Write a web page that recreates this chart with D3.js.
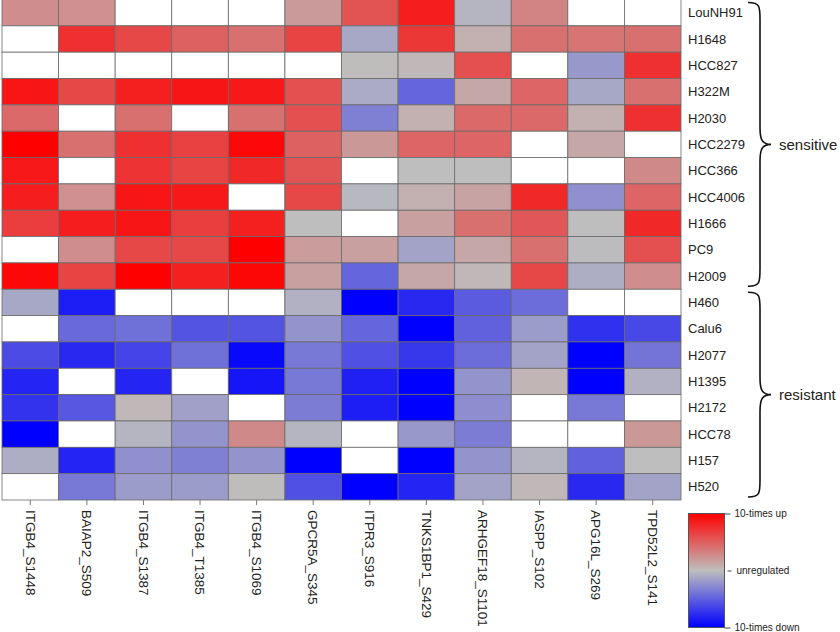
<!DOCTYPE html>
<html>
<head>
<meta charset="utf-8">
<script src="https://cdn.jsdelivr.net/npm/d3@7"></script>
<style>
  html, body { margin: 0; padding: 0; background: #ffffff; }
  svg { display: block; }
  text { font-family: "Liberation Sans", Arial, sans-serif; fill: #222; }
</style>
</head>
<body>
<svg id="chart" width="840" height="632"></svg>
<script>
// ---- data ----
const columns = ["ITGB4_S1448","BAIAP2_S509","ITGB4_S1387","ITGB4_T1385","ITGB4_S1069","GPCR5A_S345",
                 "ITPR3_S916","TNKS1BP1_S429","ARHGEF18_S1101","IASPP_S102","APG16L_S269","TPD52L2_S141"];
const rows = ["LouNH91","H1648","HCC827","H322M","H2030","HCC2279","HCC366","HCC4006","H1666","PC9","H2009",
              "H460","Calu6","H2077","H1395","H2172","HCC78","H157","H520"];
// log10 fold change (-1 = 10-times down, +1 = 10-times up); null = no value
const values = [
  [0.26, 0.24, null, null, null, 0.19, 0.56, 0.85, -0.05, 0.31, null, null],
  [null, 0.75, 0.62, 0.49, 0.41, 0.64, -0.12, 0.71, 0.07, 0.41, 0.39, 0.41],
  [null, null, null, null, null, null, 0.01, 0.03, 0.58, null, -0.20, 0.75],
  [0.89, 0.62, 0.83, 0.89, 0.87, 0.58, -0.10, -0.47, 0.12, 0.47, -0.12, 0.41],
  [0.45, null, 0.41, null, 0.41, 0.58, -0.33, 0.07, 0.45, 0.45, 0.07, 0.75],
  [1.00, 0.41, 0.75, 0.66, 0.96, 0.49, 0.20, 0.47, 0.47, null, 0.12, null],
  [0.87, null, 0.73, 0.64, 0.79, 0.56, null, 0.00, 0.00, null, null, 0.28],
  [0.85, 0.24, 0.89, 0.87, null, 0.62, -0.03, 0.07, 0.14, 0.79, -0.24, 0.47],
  [0.68, 0.85, 0.89, 0.68, 0.83, 0.00, null, 0.16, 0.41, 0.54, 0.00, 0.79],
  [null, 0.26, 0.62, 0.62, 1.00, 0.18, 0.16, -0.14, 0.12, 0.41, -0.01, 0.58],
  [0.96, 0.64, 1.00, 0.83, 0.97, 0.16, -0.47, 0.12, 0.03, 0.62, -0.09, 0.26],
  [-0.12, -0.85, null, null, null, -0.07, -1.00, -0.79, -0.52, -0.43, null, null],
  [null, -0.45, -0.41, -0.56, -0.56, -0.22, -0.47, -1.00, -0.49, -0.18, -0.75, -0.62],
  [-0.60, -0.79, -0.64, -0.41, -0.96, -0.37, -0.58, -0.71, -0.43, -0.14, -1.00, -0.39],
  [-0.81, null, -0.81, null, -0.89, -0.37, -0.83, -1.00, -0.22, 0.05, -1.00, -0.07],
  [-0.73, -0.54, 0.03, -0.16, null, -0.35, -0.85, -1.00, -0.26, null, -0.37, null],
  [-1.00, null, -0.05, -0.22, 0.28, -0.05, null, -0.20, -0.35, null, null, 0.20],
  [-0.09, -0.81, -0.24, -0.33, -0.22, -1.00, null, -1.00, -0.22, -0.05, -0.49, 0.00],
  [null, -0.37, -0.18, -0.18, 0.01, -0.58, -1.00, -0.81, -0.14, 0.03, -0.79, -0.14]
];
const groups = [
  {name: "sensitive", first: "LouNH91", last: "H2009"},
  {name: "resistant", first: "H460", last: "H520"}
];
const legendTicks = [1, 0, -1];
const legendLabels = ["10-times up", "unregulated", "10-times down"];

// ---- drawing ----
const svg = d3.select("#chart");

const x = d3.scaleBand().domain(columns).range([2, 681]);
const y = d3.scaleBand().domain(rows).range([-0.5, 500]);
const color = d3.scaleLinear().domain([-1, 0, 1]).range(["#0000ff", "#bebebe", "#ff0000"]).clamp(true);

const cells = [];
rows.forEach((r, i) => columns.forEach((c, j) => cells.push({row: r, col: c, v: values[i][j]})));

svg.append("g").selectAll("rect").data(cells).join("rect")
  .attr("x", d => x(d.col))
  .attr("y", d => y(d.row))
  .attr("width", x.bandwidth())
  .attr("height", y.bandwidth())
  .attr("fill", d => d.v === null ? "#ffffff" : color(d.v))
  .attr("stroke", "#6a6a6a")
  .attr("stroke-width", 0.8);

// column ticks & labels
const xAxis = svg.append("g").attr("transform", "translate(0,500)")
  .call(d3.axisBottom(x).tickSize(5).tickFormat(""));
xAxis.select(".domain").remove();
xAxis.selectAll(".tick line").attr("stroke", "#777");

svg.append("g").selectAll("text").data(columns).join("text")
  .attr("transform", d => `translate(${x(d) + x.bandwidth() / 2},510) rotate(90)`)
  .attr("dy", "0.35em")
  .attr("text-anchor", "start")
  .style("font-size", "13.5px")
  .text(d => d);

// row labels
svg.append("g").selectAll("text").data(rows).join("text")
  .attr("x", 688)
  .attr("y", d => y(d) + y.bandwidth() / 2)
  .attr("dy", "0.35em")
  .style("font-size", "13px")
  .text(d => d);

// braces
function bracePath(y0, y1, xl, xv, xt) {
  const ym = (y0 + y1) / 2;
  const c = 17;
  return `M${xl},${y0} C${xv},${y0} ${xv},${y0 + 4} ${xv},${y0 + c}` +
         ` L${xv},${ym - c} C${xv},${ym - 5} ${xv + 2},${ym} ${xt},${ym}` +
         ` C${xv + 2},${ym} ${xv},${ym + 5} ${xv},${ym + c}` +
         ` L${xv},${y1 - c} C${xv},${y1 - 4} ${xv},${y1} ${xl},${y1}`;
}
const brace = svg.append("g");
groups.forEach((g, i) => {
  const y0 = y(g.first) + 3;
  const y1 = y(g.last) + y.bandwidth() - 3;
  brace.append("path")
    .attr("d", bracePath(y0, y1, 748, 760, 771))
    .attr("fill", "none")
    .attr("stroke", "#111")
    .attr("stroke-width", 1.6);
  brace.append("text")
    .attr("x", 779)
    .attr("y", (y0 + y1) / 2)
    .attr("dy", "0.35em")
    .style("font-size", "15px")
    .text(g.name);
});

// legend colour bar
const defs = svg.append("defs");
const grad = defs.append("linearGradient").attr("id", "lg")
  .attr("x1", 0).attr("y1", 0).attr("x2", 0).attr("y2", 1);
[1, 0.5, 0, -0.5, -1].forEach(v => {
  grad.append("stop").attr("offset", `${(1 - v) * 50}%`).attr("stop-color", color(v));
});
const ly = d3.scaleLinear().domain([-1, 1]).range([627.5, 513.5]);
svg.append("rect")
  .attr("x", 688.5).attr("y", ly(1))
  .attr("width", 36).attr("height", ly(-1) - ly(1))
  .attr("fill", "url(#lg)")
  .attr("stroke", "#555").attr("stroke-width", 1);
const lAxis = svg.append("g").attr("transform", "translate(724.5,0)")
  .call(d3.axisRight(ly).tickValues(legendTicks).tickSize(6).tickPadding(4)
    .tickFormat((d, i) => legendLabels[i]));
lAxis.select(".domain").remove();
lAxis.selectAll(".tick line").attr("stroke", "#444");
lAxis.selectAll(".tick text").style("font-size", "10px")
  .style("font-family", "'Liberation Sans', Arial, sans-serif").attr("fill", "#222");
lAxis.selectAll(".tick").filter(d => d === 0).select("text").attr("x", 12);
lAxis.selectAll(".tick").filter(d => d === 0).select("line").attr("x1", 3).attr("x2", 7);
</script>
</body>
</html>
